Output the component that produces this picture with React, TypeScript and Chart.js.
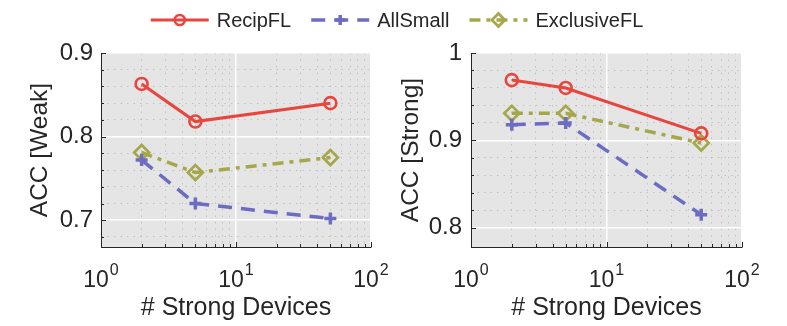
import React, { useEffect, useRef } from 'react';
import { Chart, registerables } from 'chart.js';

Chart.register(...registerables);

// ---- data ----
const strongDevices = [2, 5, 50];
const seriesNames = ['RecipFL', 'AllSmall', 'ExclusiveFL'];
const weakRecipFL = [0.863, 0.818, 0.84];
const weakAllSmall = [0.772, 0.72, 0.702];
const weakExclusiveFL = [0.781, 0.757, 0.775];
const strongRecipFL = [0.969, 0.96, 0.908];
const strongAllSmall = [0.918, 0.92, 0.815];
const strongExclusiveFL = [0.931, 0.931, 0.897];

const xMajorTicks = [1, 10, 100];
const xTickExponents = ['0', '1', '2'];
const xMinorTicks = [2, 3, 4, 5, 6, 7, 8, 9, 20, 30, 40, 50, 60, 70, 80, 90];
const weakYTicks = [0.7, 0.8, 0.9];
const weakYTickLabels = ['0.7', '0.8', '0.9'];
const weakYMinorTicks = [0.68, 0.72, 0.74, 0.76, 0.78, 0.82, 0.84, 0.86, 0.88];
const strongYTicks = [0.8, 0.9, 1.0];
const strongYTickLabels = ['0.8', '0.9', '1'];
const strongYMinorTicks = [0.82, 0.84, 0.86, 0.88, 0.92, 0.94, 0.96, 0.98];

// ---- styles ----
const FONT = "'Liberation Sans', Arial, Helvetica, sans-serif";
const TEXT = '#262626';
const styles = [
  { color: '#e8463d', width: 3, dash: [] as number[], marker: 'circle', radius: 6, mw: 2.6, lr: 5 },
  { color: '#6c6cc2', width: 3.5, dash: [14, 9], marker: 'cross', radius: 6, mw: 3.5, lr: 5 },
  { color: '#a6a64a', width: 3.5, dash: [11, 6, 4, 6], marker: 'rectRot', radius: 7.5, mw: 2.7, lr: 6.5 },
];

function drawMarker(ctx: CanvasRenderingContext2D, type: string, x: number, y: number, r: number, color: string, lw: number) {
  ctx.save();
  ctx.strokeStyle = color;
  ctx.lineWidth = lw;
  ctx.setLineDash([]);
  ctx.beginPath();
  if (type === 'circle') {
    ctx.arc(x, y, r, 0, Math.PI * 2);
  } else if (type === 'cross') {
    ctx.moveTo(x - r, y);
    ctx.lineTo(x + r, y);
    ctx.moveTo(x, y - r);
    ctx.lineTo(x, y + r);
  } else {
    ctx.moveTo(x, y - r);
    ctx.lineTo(x + r, y);
    ctx.lineTo(x, y + r);
    ctx.lineTo(x - r, y);
    ctx.closePath();
  }
  ctx.stroke();
  ctx.restore();
}

function drawLegend(ctx: CanvasRenderingContext2D) {
  ctx.save();
  ctx.font = `20px ${FONT}`;
  const lineLen = 58;
  const gap = 8;
  const itemGap = 20;
  const widths = seriesNames.map((n) => ctx.measureText(n).width);
  const total = widths.reduce((a, b) => a + b, 0) + 3 * (lineLen + gap) + 2 * itemGap;
  let x = 397 - total / 2;
  const y = 20;
  seriesNames.forEach((name, i) => {
    const s = styles[i];
    ctx.strokeStyle = s.color;
    ctx.lineWidth = s.width;
    ctx.setLineDash(s.dash);
    ctx.beginPath();
    ctx.moveTo(x, y);
    ctx.lineTo(x + lineLen, y);
    ctx.stroke();
    ctx.setLineDash([]);
    drawMarker(ctx, s.marker, x + lineLen / 2, y, s.lr, s.color, s.mw);
    ctx.fillStyle = TEXT;
    ctx.textAlign = 'left';
    ctx.textBaseline = 'middle';
    ctx.fillText(name, x + lineLen + gap, y + 1);
    x += lineLen + gap + widths[i] + itemGap;
  });
  ctx.restore();
}

type PanelCfg = {
  values: number[][];
  yMin: number;
  yMax: number;
  yTicks: number[];
  yLabels: string[];
  yMinor: number[];
  yTitle: string;
  padLeft: number;
  padRight: number;
  yWidth: number;
  yTitlePad: number;
  yTickPad: number;
  legend: boolean;
};

function makePlugin(cfg: PanelCfg) {
  return {
    id: 'matlabLook',
    beforeDraw(chart: any) {
      const { ctx, chartArea: ca } = chart;
      ctx.save();
      ctx.fillStyle = '#e5e5e5';
      ctx.fillRect(ca.left, ca.top, ca.right - ca.left, ca.bottom - ca.top);
      ctx.restore();
    },
    afterDraw(chart: any) {
      const { ctx, chartArea: ca } = chart;
      const xs = chart.scales.x;
      const ys = chart.scales.y;
      ctx.save();
      ctx.strokeStyle = TEXT;
      ctx.lineWidth = 1;
      ctx.setLineDash([]);
      ctx.beginPath();
      cfg.yTicks.forEach((v) => {
        const py = Math.round(ys.getPixelForValue(v)) + 0.5;
        ctx.moveTo(ca.left, py);
        ctx.lineTo(ca.left + 5, py);
      });
      cfg.yMinor.forEach((v) => {
        const py = Math.round(ys.getPixelForValue(v)) + 0.5;
        ctx.moveTo(ca.left, py);
        ctx.lineTo(ca.left + 3, py);
      });
      xMajorTicks.forEach((v) => {
        const px = Math.round(xs.getPixelForValue(v)) + 0.5;
        ctx.moveTo(px, ca.bottom);
        ctx.lineTo(px, ca.bottom - 5);
      });
      xMinorTicks.forEach((v) => {
        const px = Math.round(xs.getPixelForValue(v)) + 0.5;
        ctx.moveTo(px, ca.bottom);
        ctx.lineTo(px, ca.bottom - 3);
      });
      ctx.stroke();

      // x tick labels: 10^n
      ctx.fillStyle = TEXT;
      ctx.textAlign = 'left';
      ctx.textBaseline = 'alphabetic';
      xMajorTicks.forEach((v, i) => {
        const px = xs.getPixelForValue(v);
        ctx.font = `23px ${FONT}`;
        const bw = ctx.measureText('10').width;
        ctx.font = `16px ${FONT}`;
        const ew = ctx.measureText(xTickExponents[i]).width;
        const start = px - (bw + ew + 1) / 2;
        ctx.font = `23px ${FONT}`;
        ctx.fillText('10', start, 287);
        ctx.font = `16px ${FONT}`;
        ctx.fillText(xTickExponents[i], start + bw + 1, 275);
      });
      ctx.restore();

      if (cfg.legend) drawLegend(ctx);
    },
  };
}

function buildConfig(cfg: PanelCfg): any {
  const datasets = cfg.values.map((vals, i) => {
    const s = styles[i];
    return {
      label: seriesNames[i],
      data: strongDevices.map((x, j) => ({ x, y: vals[j] })),
      borderColor: s.color,
      backgroundColor: 'transparent',
      borderWidth: s.width,
      borderDash: s.dash,
      pointStyle: s.marker,
      pointRadius: s.radius,
      pointBorderWidth: s.mw,
      pointBorderColor: s.color,
      pointBackgroundColor: 'transparent',
      fill: false,
      tension: 0,
    };
  });
  const minorGrid = { color: 'rgba(120,120,120,0.32)', lineWidth: 1, drawTicks: false };
  return {
    type: 'line',
    data: { datasets },
    options: {
      responsive: false,
      animation: false,
      layout: { padding: { left: cfg.padLeft, right: cfg.padRight, top: 53, bottom: 0 } },
      plugins: { legend: { display: false }, tooltip: { enabled: false } },
      scales: {
        xMinor: {
          type: 'logarithmic',
          position: 'bottom',
          min: 1,
          max: 100,
          afterBuildTicks: (s: any) => {
            s.ticks = xMinorTicks.map((v) => ({ value: v }));
          },
          afterFit: (s: any) => {
            s.height = 0;
          },
          ticks: { display: false, autoSkip: false },
          grid: minorGrid,
          border: { display: false, dash: [1.5, 5] },
          title: { display: false },
        },
        x: {
          type: 'logarithmic',
          position: 'bottom',
          min: 1,
          max: 100,
          afterBuildTicks: (s: any) => {
            s.ticks = xMajorTicks.map((v) => ({ value: v, major: true }));
          },
          afterFit: (s: any) => {
            s.height = 79;
          },
          ticks: { display: false, autoSkip: false },
          grid: { color: '#ffffff', lineWidth: 1.5, drawTicks: false },
          border: { display: true, color: TEXT, width: 1 },
          title: {
            display: true,
            text: '# Strong Devices',
            color: TEXT,
            font: { size: 25, family: FONT },
            padding: { top: 0, bottom: 3 },
          },
        },
        yMinor: {
          type: 'linear',
          position: 'left',
          min: cfg.yMin,
          max: cfg.yMax,
          afterBuildTicks: (s: any) => {
            s.ticks = cfg.yMinor.map((v) => ({ value: v }));
          },
          afterFit: (s: any) => {
            s.width = 0;
          },
          ticks: { display: false, autoSkip: false },
          grid: minorGrid,
          border: { display: false, dash: [1.5, 5] },
          title: { display: false },
        },
        y: {
          type: 'linear',
          position: 'left',
          min: cfg.yMin,
          max: cfg.yMax,
          afterBuildTicks: (s: any) => {
            s.ticks = cfg.yTicks.map((v) => ({ value: v }));
          },
          afterFit: (s: any) => {
            s.width = cfg.yWidth;
          },
          ticks: {
            autoSkip: false,
            color: TEXT,
            font: { size: 24, family: FONT },
            padding: cfg.yTickPad,
            callback: (value: number) => {
              const idx = cfg.yTicks.findIndex((t) => Math.abs(t - value) < 1e-9);
              return idx >= 0 ? cfg.yLabels[idx] : '';
            },
          },
          grid: { color: '#ffffff', lineWidth: 1.5, drawTicks: false },
          border: { display: true, color: TEXT, width: 1 },
          title: {
            display: true,
            text: cfg.yTitle,
            color: TEXT,
            font: { size: 24.5, family: FONT },
            padding: { top: cfg.yTitlePad, bottom: 0 },
          },
        },
      },
    },
    plugins: [makePlugin(cfg)],
  };
}

const weakCfg: PanelCfg = {
  values: [weakRecipFL, weakAllSmall, weakExclusiveFL],
  yMin: 0.668,
  yMax: 0.9,
  yTicks: weakYTicks,
  yLabels: weakYTickLabels,
  yMinor: weakYMinorTicks,
  yTitle: 'ACC [Weak]',
  padLeft: 0,
  padRight: 416,
  yWidth: 101,
  yTitlePad: 25.3,
  yTickPad: 8,
  legend: true,
};

const strongCfg: PanelCfg = {
  values: [strongRecipFL, strongAllSmall, strongExclusiveFL],
  yMin: 0.778,
  yMax: 1.0,
  yTicks: strongYTicks,
  yLabels: strongYTickLabels,
  yMinor: strongYMinorTicks,
  yTitle: 'ACC [Strong]',
  padLeft: 390,
  padRight: 45,
  yWidth: 81,
  yTitlePad: 7,
  yTickPad: 9,
  legend: false,
};

function Panel({ cfg }: { cfg: PanelCfg }) {
  const ref = useRef<HTMLCanvasElement | null>(null);
  useEffect(() => {
    if (!ref.current) return;
    Chart.defaults.font.family = FONT;
    const chart = new Chart(ref.current, buildConfig(cfg));
    return () => chart.destroy();
  }, [cfg]);
  return (
    <canvas
      ref={ref}
      width={787}
      height={326}
      style={{ position: 'absolute', left: 0, top: 0, width: 787, height: 326 }}
    />
  );
}

export default function App() {
  return (
    <div style={{ position: 'absolute', left: 0, top: 0, width: 787, height: 326, background: '#ffffff' }}>
      <Panel cfg={weakCfg} />
      <Panel cfg={strongCfg} />
    </div>
  );
}
